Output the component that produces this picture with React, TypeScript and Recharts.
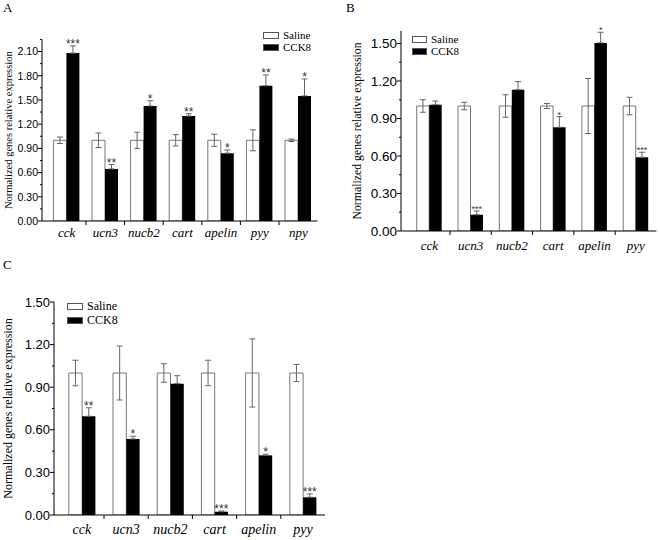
import React from 'react';
import { BarChart, Bar, XAxis, YAxis, ErrorBar, LabelList, Legend, Label } from 'recharts';

const SERIF = '"Liberation Serif", "Times New Roman", serif';
const SANS = '"Liberation Sans", Arial, sans-serif';

// ---------- data ----------
const legendLabels = ['Saline', 'CCK8'];
const yAxisTitle = 'Normalized genes relative expression';

// Panel A
const catsA = ['cck', 'ucn3', 'nucb2', 'cart', 'apelin', 'pyy', 'npy'];
const salineA = [1.0, 1.0, 1.0, 1.0, 1.0, 1.0, 1.0];
const salineErrA = [0.04, 0.09, 0.1, 0.07, 0.075, 0.13, 0.015];
const cck8A = [2.08, 0.645, 1.425, 1.3, 0.84, 1.675, 1.55];
const cck8ErrA = [0.09, 0.055, 0.065, 0.03, 0.04, 0.135, 0.21];
const starsA = ['***', '**', '*', '**', '*', '**', '*'];
const yTicksA = [0, 0.15, 0.3, 0.45, 0.6, 0.75, 0.9, 1.05, 1.2, 1.35, 1.5, 1.65, 1.8, 1.95, 2.1, 2.25];

// Panel B
const catsB = ['cck', 'ucn3', 'nucb2', 'cart', 'apelin', 'pyy'];
const salineB = [1.0, 1.0, 1.0, 1.0, 1.0, 1.0];
const salineErrB = [0.05, 0.03, 0.09, 0.02, 0.22, 0.07];
const cck8B = [1.01, 0.13, 1.13, 0.83, 1.505, 0.59];
const cck8ErrB = [0.03, 0.03, 0.065, 0.085, 0.085, 0.04];
const starsB = ['', '***', '', '*', '*', '***'];
const yTicksB = [0, 0.15, 0.3, 0.45, 0.6, 0.75, 0.9, 1.05, 1.2, 1.35, 1.5];

// Panel C
const catsC = ['cck', 'ucn3', 'nucb2', 'cart', 'apelin', 'pyy'];
const salineC = [1.0, 1.0, 1.0, 1.0, 1.0, 1.0];
const salineErrC = [0.09, 0.19, 0.065, 0.09, 0.24, 0.06];
const cck8C = [0.695, 0.535, 0.925, 0.023, 0.42, 0.125];
const cck8ErrC = [0.06, 0.02, 0.056, 0.005, 0.008, 0.024];
const starsC = ['**', '*', '', '***', '*', '***'];
const yTicksC = [0, 0.15, 0.3, 0.45, 0.6, 0.75, 0.9, 1.05, 1.2, 1.35, 1.5];

// ---------- layout configs ----------
type Cfg = {
  cats: string[]; saline: number[]; salineErr: number[]; cck8: number[]; cck8Err: number[]; stars: string[];
  yTicks: number[]; yMax: number;
  left: number; top: number; w: number; h: number;
  yAxisW: number; mTop: number; mRight: number; xAxisH: number; padLeft: number; barSize: number;
  yTickFont: number; catFont: number; catDy: number; yLabelX: number; yLabelFont: number;
  legendLeft: number; legendTop: number; legendFont: number; legendRow: number; legendBoxW: number;
  starFont: number;
};

const cfgA: Cfg = {
  cats: catsA, saline: salineA, salineErr: salineErrA, cck8: cck8A, cck8Err: cck8ErrA, stars: starsA,
  yTicks: yTicksA, yMax: 2.25,
  left: 0, top: 0, w: 330, h: 270,
  yAxisW: 42, mTop: 39.4, mRight: 12.4, xAxisH: 49, padLeft: 5.4, barSize: 13,
  yTickFont: 10.5, catFont: 13, catDy: 16, yLabelX: 9, yLabelFont: 10.5,
  legendLeft: 263, legendTop: 29, legendFont: 11, legendRow: 12, legendBoxW: 16,
  starFont: 12,
};
const cfgB: Cfg = {
  cats: catsB, saline: salineB, salineErr: salineErrB, cck8: cck8B, cck8Err: cck8ErrB, stars: starsB,
  yTicks: yTicksB, yMax: 1.6,
  left: 330, top: 0, w: 330, h: 270,
  yAxisW: 71, mTop: 31, mRight: 3.5, xAxisH: 39, padLeft: 7.7, barSize: 12.5,
  yTickFont: 13.5, catFont: 13, catDy: 19, yLabelX: 27, yLabelFont: 11.8,
  legendLeft: 82, legendTop: 33, legendFont: 11, legendRow: 12, legendBoxW: 15,
  starFont: 9,
};
const cfgC: Cfg = {
  cats: catsC, saline: salineC, salineErr: salineErrC, cck8: cck8C, cck8Err: cck8ErrC, stars: starsC,
  yTicks: yTicksC, yMax: 1.5,
  left: 0, top: 270, w: 330, h: 270,
  yAxisW: 54, mTop: 32, mRight: 5, xAxisH: 25, padLeft: 5.8, barSize: 13.3,
  yTickFont: 13, catFont: 14, catDy: 19, yLabelX: 8, yLabelFont: 12,
  legendLeft: 67, legendTop: 29, legendFont: 12, legendRow: 14, legendBoxW: 16,
  starFont: 12,
};

const isMajor = (v: number) => Math.abs(v / 0.3 - Math.round(v / 0.3)) < 1e-6;

function Panel({ cfg }: { cfg: Cfg }) {
  const data = cfg.cats.map((c, i) => ({
    cat: c,
    saline: cfg.saline[i],
    salineErr: cfg.salineErr[i],
    cck8: cfg.cck8[i],
    cck8Err: [0, cfg.cck8Err[i]],
    stars: cfg.stars[i],
  }));
  const n = cfg.cats.length;
  const plotW = cfg.w - cfg.yAxisW - cfg.mRight;
  const band = (plotW - cfg.padLeft) / n;

  const XTick = (props: any) => {
    const x = Number(props.x);
    const y = Number(props.y);
    const idx = props.index;
    return (
      <g>
        {idx < n - 1 && (
          <line x1={x + band / 2} x2={x + band / 2} y1={y} y2={y + 4} stroke="#000" strokeWidth={1} />
        )}
        <text x={x} y={y + cfg.catDy} textAnchor="middle" fontFamily={SERIF} fontStyle="italic" fontSize={cfg.catFont} fill="#000">
          {props.payload.value}
        </text>
      </g>
    );
  };

  const YTick = (props: any) => {
    const x = Number(props.x);
    const y = Number(props.y);
    const v = props.payload.value;
    const major = isMajor(v);
    return (
      <g>
        <line x1={x} x2={x - (major ? 4 : 2)} y1={y} y2={y} stroke="#000" strokeWidth={1} />
        {major && (
          <text x={x - 4} y={y} dy="0.36em" textAnchor="end" fontFamily={SANS} fontSize={cfg.yTickFont} fill="#000">
            {v.toFixed(2)}
          </text>
        )}
      </g>
    );
  };

  const StarLabel = (props: any) => {
    const idx = props.index;
    const s = cfg.stars[idx];
    if (!s) return null;
    const x = Number(props.x);
    const y = Number(props.y);
    const width = Number(props.width);
    const height = Number(props.height);
    const v = cfg.cck8[idx];
    const errPx = (cfg.cck8Err[idx] * height) / v;
    const top = y - errPx;
    return (
      <text x={x + width / 2} y={top - 2.5 + cfg.starFont * 0.38} textAnchor="middle" fontFamily={SANS} fontSize={cfg.starFont} fill="#333">
        {s}
      </text>
    );
  };

  const YLabel = (props: any) => {
    const vb = props.viewBox || {};
    const cy = Number(vb.y) + Number(vb.height) / 2;
    return (
      <text x={cfg.yLabelX} y={cy} transform={`rotate(-90 ${cfg.yLabelX} ${cy})`} textAnchor="middle" dominantBaseline="central" fontFamily={SERIF} fontSize={cfg.yLabelFont} fill="#000">
        {yAxisTitle}
      </text>
    );
  };

  const LegendBox = () => (
    <div style={{ fontFamily: SERIF, fontSize: cfg.legendFont, lineHeight: cfg.legendRow + 'px', color: '#000' }}>
      {legendLabels.map((l, i) => (
        <div key={l} style={{ display: 'flex', alignItems: 'center', whiteSpace: 'nowrap' }}>
          <span
            style={{
              display: 'inline-block', width: cfg.legendBoxW, height: 7, boxSizing: 'border-box',
              border: '1px solid #555', background: i === 0 ? '#fff' : '#000', marginRight: 4,
            }}
          />
          {l}
        </div>
      ))}
    </div>
  );

  return (
    <div style={{ position: 'absolute', left: cfg.left, top: cfg.top }}>
      <BarChart
        width={cfg.w}
        height={cfg.h}
        data={data}
        margin={{ top: cfg.mTop, right: cfg.mRight, bottom: 0, left: 0 }}
        barGap={0}
      >
        <XAxis
          dataKey="cat"
          height={cfg.xAxisH}
          padding={{ left: cfg.padLeft, right: 0 }}
          tickLine={false}
          tickSize={0}
          tickMargin={0}
          interval={0}
          tick={XTick}
          axisLine={{ stroke: '#000', strokeWidth: 1 }}
        />
        <YAxis
          width={cfg.yAxisW}
          domain={[0, cfg.yMax]}
          ticks={cfg.yTicks}
          interval={0}
          tickLine={false}
          tickSize={0}
          tickMargin={0}
          tick={YTick}
          axisLine={{ stroke: '#000', strokeWidth: 1 }}
          allowDataOverflow
        >
          <Label content={YLabel} />
        </YAxis>
        <Legend
          layout="vertical"
          align="center"
          verticalAlign="middle"
          content={LegendBox}
          wrapperStyle={{ left: cfg.legendLeft, top: cfg.legendTop, width: 'auto', height: 'auto' }}
        />
        <Bar dataKey="saline" fill="#fff" stroke="#777" strokeWidth={1} barSize={cfg.barSize} isAnimationActive={false}>
          <ErrorBar dataKey="salineErr" stroke="#666" strokeWidth={1} width={3} isAnimationActive={false} />
        </Bar>
        <Bar dataKey="cck8" fill="#000" barSize={cfg.barSize} isAnimationActive={false}>
          <ErrorBar dataKey="cck8Err" stroke="#666" strokeWidth={1} width={3} isAnimationActive={false} />
          <LabelList dataKey="stars" content={StarLabel} />
        </Bar>
      </BarChart>
    </div>
  );
}

export default function App() {
  const letter = (t: string, left: number, top: number) => (
    <div style={{ position: 'absolute', left, top, fontFamily: SERIF, fontSize: 13, lineHeight: '13px', color: '#000' }}>{t}</div>
  );
  return (
    <div style={{ position: 'absolute', left: 0, top: 0, width: 660, height: 540, background: '#fff', overflow: 'hidden' }}>
      <Panel cfg={cfgA} />
      <Panel cfg={cfgB} />
      <Panel cfg={cfgC} />
      {letter('A', 3, 1)}
      {letter('B', 346, 1)}
      {letter('C', 3, 258)}
    </div>
  );
}
